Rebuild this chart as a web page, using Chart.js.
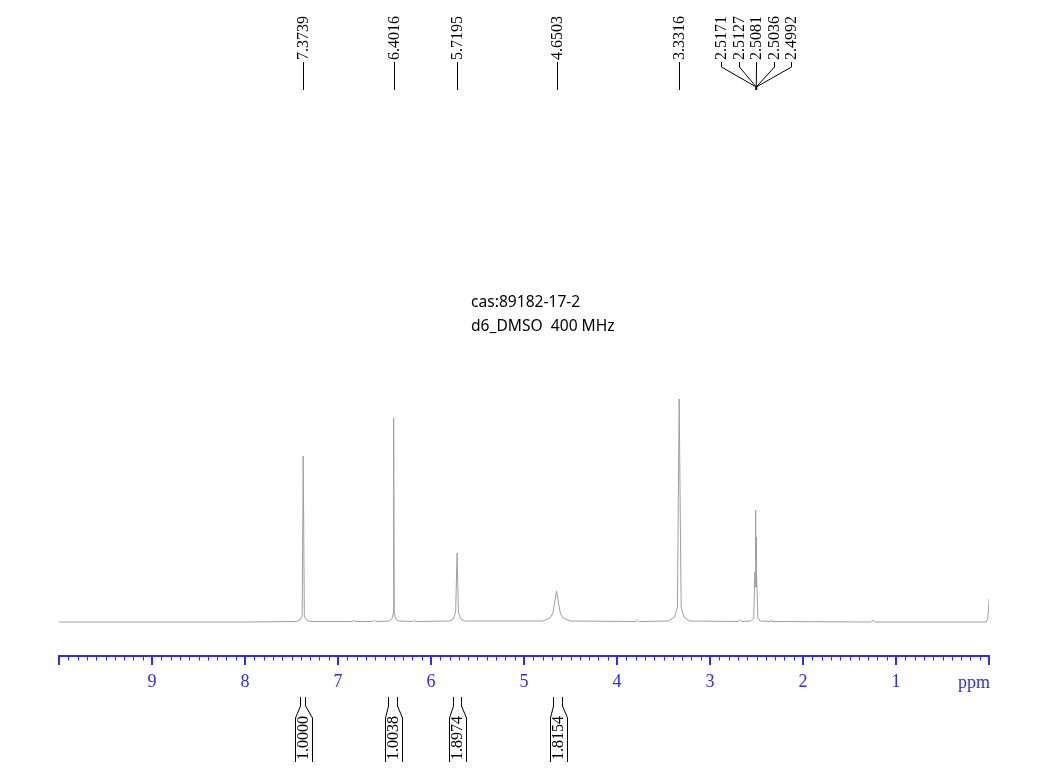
<!DOCTYPE html>
<html>
<head>
<meta charset="utf-8">
<script src="https://cdn.jsdelivr.net/npm/chart.js@4.4.1/dist/chart.umd.min.js"></script>
<style>
  html, body { margin: 0; padding: 0; background: #ffffff; }
  #wrap { position: relative; width: 1053px; height: 780px; }
</style>
</head>
<body>
<div id="wrap"><canvas id="c"></canvas></div>
<script>
// ---- data ----
const ppm = [
  10.00, 8.00, 7.45, 7.41, 7.385, 7.3739, 7.362, 7.34, 7.30,
  6.85, 6.83, 6.81, 6.63, 6.61, 6.59,
  6.45, 6.42, 6.408, 6.4016, 6.395, 6.38, 6.35,
  6.20, 6.18, 6.16,
  5.80, 5.76, 5.735, 5.7195, 5.705, 5.68, 5.64,
  4.80, 4.72, 4.69, 4.67, 4.6503, 4.63, 4.61, 4.58, 4.50,
  3.80, 3.78, 3.76,
  3.45, 3.38, 3.35, 3.3316, 3.31, 3.28, 3.22,
  2.70, 2.68, 2.66,
  2.56, 2.53, 2.5171, 2.515, 2.5127, 2.510, 2.5081, 2.506, 2.5036, 2.501, 2.4992, 2.485, 2.46,
  2.35, 2.34, 2.33,
  1.27, 1.25, 1.23,
  0.03, 0.015, 0.005, 0.00
];
const intensity = [
  0, 0, 0.5, 2, 6, 166, 6, 2, 0.5,
  0.5, 1.5, 0.5, 0.5, 2, 0.5,
  1, 3, 8, 204, 8, 3, 1,
  0.5, 1.5, 0.5,
  1, 3, 10, 69, 10, 3, 1,
  1, 4, 9, 20, 31, 20, 9, 4, 1,
  0.5, 2, 0.5,
  1, 5, 15, 223, 15, 5, 1,
  0.5, 2, 0.5,
  1, 4, 50, 35, 85, 60, 112, 60, 85, 35, 50, 4, 1,
  0.5, 2, 0.5,
  0, 2, 0,
  0, 3, 12, 23
];
const tickValues = [10, 9, 8, 7, 6, 5, 4, 3, 2, 1, 0];
const tickLabels = ['', '9', '8', '7', '6', '5', '4', '3', '2', '1', ''];
const axisUnit = 'ppm';

const peakLabels = ['7.3739', '6.4016', '5.7195', '4.6503', '3.3316'];
const clusterLabels = ['2.5171', '2.5127', '2.5081', '2.5036', '2.4992'];

const integralValues = ['1.0000', '1.0038', '1.8974', '1.8154'];
const integralFrom = [7.409, 6.459, 5.767, 4.691];
const integralTo   = [7.355, 6.369, 5.681, 4.588];

const titleLines = ['cas:89182-17-2', 'd6_DMSO  400 MHz'];

// ---- styles ----
const AXIS_COLOR = '#2d2df0';
const SPEC_COLOR = 'rgb(158,158,170)';
const SERIF = '"Liberation Serif", "Times New Roman", serif';

const annotPlugin = {
  id: 'annot',
  afterDraw(chart) {
    const ctx = chart.ctx;
    const xs = chart.scales.x;
    const area = chart.chartArea;
    ctx.save();

    // minor ticks every 0.1 ppm
    ctx.strokeStyle = AXIS_COLOR;
    ctx.lineWidth = 1;
    for (let i = 1; i < 100; i++) {
      if (i % 10 === 0) continue;
      const px = Math.round(xs.getPixelForValue(i / 10)) + 0.5;
      ctx.beginPath();
      ctx.moveTo(px, area.bottom);
      ctx.lineTo(px, area.bottom + 4.5);
      ctx.stroke();
    }

    // unit label
    ctx.fillStyle = AXIS_COLOR;
    ctx.font = '18px ' + SERIF;
    ctx.textAlign = 'right';
    ctx.textBaseline = 'alphabetic';
    ctx.fillText(axisUnit, xs.getPixelForValue(0) + 1, 688);

    // peak labels
    ctx.fillStyle = '#000';
    ctx.strokeStyle = '#000';
    ctx.lineWidth = 1;
    ctx.font = '16px ' + SERIF;
    const drawRot = (txt, x, y) => {
      ctx.save();
      ctx.translate(x, y);
      ctx.rotate(-Math.PI / 2);
      ctx.textAlign = 'left';
      ctx.textBaseline = 'middle';
      ctx.fillText(txt, 0, 0);
      ctx.restore();
    };
    peakLabels.forEach(l => {
      const x = Math.round(xs.getPixelForValue(parseFloat(l))) + 0.5;
      drawRot(l, x, 60);
      ctx.beginPath();
      ctx.moveTo(x, 62);
      ctx.lineTo(x, 90);
      ctx.stroke();
    });
    // cluster
    const mid = (clusterLabels.length - 1) / 2;
    const cVals = clusterLabels.map(parseFloat);
    const cx = xs.getPixelForValue(cVals[Math.round(mid)]) + 0.5;
    const spacing = 17.5;
    clusterLabels.forEach((l, i) => {
      const lx = Math.round(cx + (i - mid) * spacing) + 0.5;
      drawRot(l, lx, 60);
      ctx.beginPath();
      ctx.moveTo(lx, 62);
      ctx.lineTo(lx, 67);
      ctx.lineTo(cx, 87);
      ctx.stroke();
    });
    ctx.lineWidth = 2;
    ctx.beginPath();
    ctx.moveTo(cx, 86);
    ctx.lineTo(cx, 90);
    ctx.stroke();

    // integrals
    ctx.lineWidth = 1;
    integralValues.forEach((v, i) => {
      const a = Math.round(xs.getPixelForValue(integralFrom[i])) + 0.5;
      const b = Math.round(xs.getPixelForValue(integralTo[i])) + 0.5;
      const c = (a + b) / 2;
      const l = Math.round(c - 8.5) + 0.5, r = Math.round(c + 8.5) + 0.5;
      ctx.beginPath();
      ctx.moveTo(a, 697); ctx.lineTo(a, 706); ctx.lineTo(l, 718); ctx.lineTo(l, 762);
      ctx.moveTo(b, 697); ctx.lineTo(b, 706); ctx.lineTo(r, 718); ctx.lineTo(r, 762);
      ctx.stroke();
      drawRot(v, c + 0.5, 760);
    });

    // title
    ctx.font = '15.6px "Noto Sans", sans-serif';
    ctx.textAlign = 'left';
    ctx.textBaseline = 'alphabetic';
    ctx.fillText(titleLines[0], 471, 307);
    ctx.fillText(titleLines[1], 471, 331);

    ctx.restore();
  }
};

const points = ppm.map((p, i) => ({ x: p, y: intensity[i] }));

new Chart(document.getElementById('c'), {
  type: 'line',
  data: {
    datasets: [{
      data: points,
      borderColor: SPEC_COLOR,
      borderWidth: 1,
      pointRadius: 0,
      tension: 0,
      fill: false
    }]
  },
  options: {
    responsive: true,
    maintainAspectRatio: false,
    animation: false,
    events: [],
    layout: { padding: { left: 59, right: 64, top: 0, bottom: 0 } },
    plugins: { legend: { display: false }, tooltip: { enabled: false } },
    scales: {
      x: {
        type: 'linear',
        reverse: true,
        min: 0,
        max: 10,
        afterBuildTicks(scale) { scale.ticks = tickValues.map(v => ({ value: v })); },
        afterFit(scale) { scale.height = 124; },
        border: { display: true, color: AXIS_COLOR, width: 2 },
        grid: { drawOnChartArea: false, drawTicks: true, tickLength: 9, color: AXIS_COLOR, lineWidth: 2 },
        ticks: {
          autoSkip: false,
          maxRotation: 0,
          padding: 6,
          color: AXIS_COLOR,
          font: { family: SERIF, size: 18 },
          callback(v) { const k = tickValues.indexOf(v); return k >= 0 ? tickLabels[k] : ''; }
        }
      },
      y: { display: false, min: -34, max: 622 }
    }
  },
  plugins: [annotPlugin]
});
</script>
</body>
</html>
